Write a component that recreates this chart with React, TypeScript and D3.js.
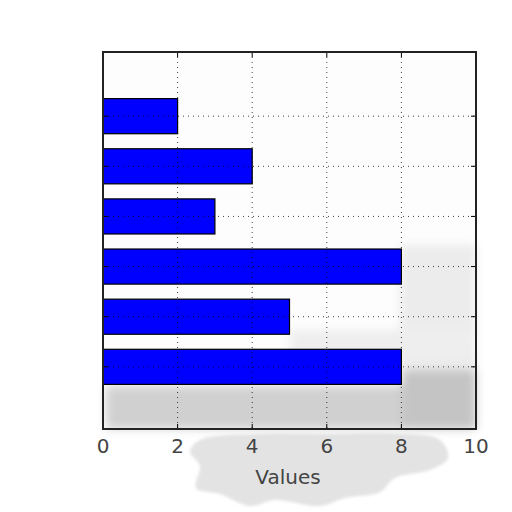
import React from 'react';
import * as d3 from 'd3';

const categories = ['A', 'B', 'C', 'D', 'E', 'F'];
const values = [2, 4, 3, 8, 5, 8];
const xTicks = [0, 2, 4, 6, 8, 10];

const W = 512;
const H = 512;
const plot = { left: 103, right: 476, top: 52, bottom: 429 };

const App: React.FC = () => {
  const x = d3.scaleLinear().domain([0, 10]).range([plot.left, plot.right]);
  const y = d3.scaleLinear().domain([-1.28, 6.24]).range([plot.top, plot.bottom]);
  const barH = y(0.7) - y(0);

  // blotchy grey shadow behind the lower part of the chart
  const smudge = d3.line().curve(d3.curveCatmullRomClosed);
  const belowPts: [number, number][] = [
    [200, 440], [260, 434], [330, 434], [400, 434], [440, 440], [448, 458],
    [430, 470], [395, 478], [380, 492], [345, 498], [320, 506], [275, 500],
    [250, 506], [220, 494], [196, 488], [200, 466], [190, 452],
  ];

  return (
    <div style={{ position: 'absolute', left: 0, top: 0 }}>
      <svg width={W} height={H} style={{ display: 'block', background: '#fff' }}>
        <defs>
          <filter id="blur" x="-20%" y="-20%" width="140%" height="140%">
            <feGaussianBlur stdDeviation="5" />
          </filter>
          <filter id="blur2" x="-20%" y="-20%" width="140%" height="140%">
            <feGaussianBlur stdDeviation="1.5" />
          </filter>
        </defs>

        {/* outside smudge */}
        <path d={smudge(belowPts) || ''} fill="#e3e3e3" filter="url(#blur2)" />

        {/* plot background */}
        <rect x={plot.left} y={plot.top} width={plot.right - plot.left} height={plot.bottom - plot.top} fill="#fdfdfd" />
        <g filter="url(#blur)">
          <rect x={400} y={245} width={76} height={125} fill="#ececec" />
          <rect x={290} y={330} width={186} height={25} fill="#eeeeee" />
          <rect x={106} y={386} width={370} height={43} fill="#d0d0d0" />
          <rect x={402} y={370} width={74} height={59} fill="#c4c4c4" />
        </g>

        {/* bars */}
        {values.map((v, i) => (
          <rect
            key={categories[i]}
            x={x(0)}
            y={y(i) - barH / 2}
            width={x(v) - x(0)}
            height={barH}
            fill="#0000ff"
            stroke="#000"
            strokeWidth={1.2}
          />
        ))}

        {/* grid */}
        <g stroke="#000" strokeWidth={1} strokeDasharray="1,4" opacity={0.75}>
          {xTicks.slice(1, -1).map(t => (
            <line key={'gx' + t} x1={x(t)} x2={x(t)} y1={plot.top} y2={plot.bottom} />
          ))}
          {categories.map((c, i) => (
            <line key={'gy' + c} x1={plot.left} x2={plot.right} y1={y(i)} y2={y(i)} />
          ))}
        </g>

        {/* ticks */}
        <g stroke="#000" strokeWidth={1}>
          {xTicks.map(t => (
            <g key={'t' + t}>
              <line x1={x(t)} x2={x(t)} y1={plot.bottom} y2={plot.bottom - 5} />
              <line x1={x(t)} x2={x(t)} y1={plot.top} y2={plot.top + 5} />
            </g>
          ))}
          {categories.map((c, i) => (
            <g key={'ty' + c}>
              <line x1={plot.left} x2={plot.left + 5} y1={y(i)} y2={y(i)} />
              <line x1={plot.right} x2={plot.right - 5} y1={y(i)} y2={y(i)} />
            </g>
          ))}
        </g>

        {/* frame */}
        <rect
          x={plot.left}
          y={plot.top}
          width={plot.right - plot.left}
          height={plot.bottom - plot.top}
          fill="none"
          stroke="#222"
          strokeWidth={2}
        />

        {/* x tick labels */}
        <g fontFamily="DejaVu Sans" fontSize={20} fill="#444" textAnchor="middle">
          {xTicks.map(t => (
            <text key={'l' + t} x={x(t)} y={453}>{t}</text>
          ))}
          <text x={288} y={483.5}>Values</text>
        </g>
      </svg>
    </div>
  );
};

export default App;
